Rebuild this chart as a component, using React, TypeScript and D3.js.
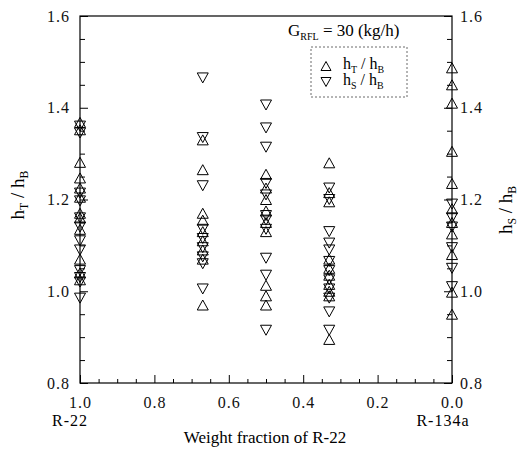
import React, { useEffect, useRef } from 'react';
import * as d3 from 'd3';

const W = 521;
const H = 449;
const FONT = 'Liberation Serif, Times New Roman, Times, serif';

// weight fraction of R-22 for each measured mixture
const fractions = [1.0, 0.67, 0.5, 0.33, 0.0];

// h_T / h_B (up triangles)
const hT_100 = [1.368, 1.352, 1.281, 1.247, 1.225, 1.205, 1.17, 1.16, 1.135, 1.07, 1.04, 1.025];
const hT_67 = [1.33, 1.265, 1.17, 1.155, 1.13, 1.11, 1.09, 1.07, 0.97];
const hT_50 = [1.255, 1.225, 1.2, 1.175, 1.15, 1.13, 1.013, 0.99, 0.97];
const hT_33 = [1.28, 1.215, 1.195, 1.07, 1.05, 1.035, 1.015, 1.0, 0.99, 0.895];
const hT_0 = [1.487, 1.45, 1.41, 1.305, 1.235, 1.18, 1.15, 1.125, 1.08, 0.998, 0.95];

// h_S / h_B (down triangles)
const hS_100 = [1.36, 1.345, 1.214, 1.197, 1.16, 1.14, 1.11, 1.09, 1.045, 1.03, 1.02, 0.985];
const hS_67 = [1.465, 1.335, 1.23, 1.135, 1.115, 1.095, 1.075, 1.06, 1.005];
const hS_50 = [1.406, 1.356, 1.314, 1.235, 1.21, 1.165, 1.155, 1.135, 1.072, 1.035, 0.915];
const hS_33 = [1.225, 1.2, 1.13, 1.105, 1.09, 1.065, 1.045, 1.025, 1.005, 0.985, 0.955, 0.915];
const hS_0 = [1.19, 1.16, 1.14, 1.095, 1.05, 1.01];

const hTSeries = [hT_100, hT_67, hT_50, hT_33, hT_0];
const hSSeries = [hS_100, hS_67, hS_50, hS_33, hS_0];

const xMajor = [1.0, 0.8, 0.6, 0.4, 0.2, 0.0];
const yMajor = [0.8, 1.0, 1.2, 1.4, 1.6];

const triUp = (w: number, h: number) => `M0,${-h / 2}L${w / 2},${h / 2}L${-w / 2},${h / 2}Z`;
const triDown = (w: number, h: number) => `M0,${h / 2}L${w / 2},${-h / 2}L${-w / 2},${-h / 2}Z`;

const App: React.FC = () => {
    const svgRef = useRef<SVGSVGElement>(null);

    useEffect(() => {
        if (!svgRef.current) return;
        const svg = d3.select(svgRef.current);
        svg.selectAll('*').remove();

        const left = 80, right = 452, top = 16, bottom = 383;
        const x = d3.scaleLinear().domain([1, 0]).range([left, right]);
        const y = d3.scaleLinear().domain([0.8, 1.6]).range([bottom, top]);

        const minorX = d3.range(0, 21).map(i => i * 0.05).filter(v => !xMajor.some(m => Math.abs(m - v) < 1e-6));
        const minorY = d3.range(0, 17).map(i => 0.8 + i * 0.05).filter(v => !yMajor.some(m => Math.abs(m - v) < 1e-6));

        const styleAxis = (g: d3.Selection<SVGGElement, unknown, null, undefined>) => {
            g.select('.domain').remove();
            g.attr('font-family', FONT).attr('font-size', 16);
            g.selectAll('line').attr('stroke', '#000').attr('stroke-width', 1);
            g.selectAll('text').attr('fill', '#111').style('letter-spacing', '1px');
        };

        // bottom axis
        svg.append('g')
            .attr('transform', `translate(0,${bottom})`)
            .call(d3.axisBottom(x).tickValues(xMajor).tickSize(-8).tickPadding(14).tickFormat(d3.format('.1f')))
            .call(styleAxis);
        svg.append('g')
            .attr('transform', `translate(0,${bottom})`)
            .call(d3.axisBottom(x).tickValues(minorX).tickSize(-4).tickFormat(() => ''))
            .call(styleAxis);

        // left axis
        svg.append('g')
            .attr('transform', `translate(${left},0)`)
            .call(d3.axisLeft(y).tickValues(yMajor).tickSize(-8).tickPadding(10).tickFormat(d3.format('.1f')))
            .call(styleAxis);
        svg.append('g')
            .attr('transform', `translate(${left},0)`)
            .call(d3.axisLeft(y).tickValues(minorY).tickSize(-5).tickFormat(() => ''))
            .call(styleAxis);

        // right axis
        svg.append('g')
            .attr('transform', `translate(${right},0)`)
            .call(d3.axisRight(y).tickValues(yMajor).tickSize(-8).tickPadding(8).tickFormat(d3.format('.1f')))
            .call(styleAxis);
        svg.append('g')
            .attr('transform', `translate(${right},0)`)
            .call(d3.axisRight(y).tickValues(minorY).tickSize(-5).tickFormat(() => ''))
            .call(styleAxis);

        // frame
        svg.append('rect')
            .attr('x', left).attr('y', top)
            .attr('width', right - left).attr('height', bottom - top)
            .attr('fill', 'none').attr('stroke', '#000').attr('stroke-width', 1.2);

        // data markers
        const markers = svg.append('g').attr('fill', 'none').attr('stroke', '#000').attr('stroke-width', 1);
        fractions.forEach((f, i) => {
            markers.selectAll(null)
                .data(hTSeries[i])
                .join('path')
                .attr('d', triUp(11, 10))
                .attr('transform', d => `translate(${x(f)},${y(d)})`);
            markers.selectAll(null)
                .data(hSSeries[i])
                .join('path')
                .attr('d', triDown(11, 10))
                .attr('transform', d => `translate(${x(f)},${y(d)})`);
        });

        // component labels under axis
        svg.append('text').attr('x', 70).attr('y', 426)
            .attr('text-anchor', 'middle').attr('font-family', FONT).attr('font-size', 16)
            .style('letter-spacing', '1px').text('R-22');
        svg.append('text').attr('x', 443).attr('y', 426)
            .attr('text-anchor', 'middle').attr('font-family', FONT).attr('font-size', 16)
            .style('letter-spacing', '1px').text('R-134a');
        svg.append('text').attr('x', 265).attr('y', 443)
            .attr('text-anchor', 'middle').attr('font-family', FONT).attr('font-size', 17)
            .text('Weight fraction of R-22');

        // h over h_B label helper
        const ratioText = (sel: d3.Selection<SVGTextElement, unknown, null, undefined>, sub: string, size: number) => {
            sel.append('tspan').text('h');
            sel.append('tspan').attr('font-size', size * 0.62).attr('dy', size * 0.22).text(sub);
            sel.append('tspan').attr('dy', -size * 0.22).text(' / h');
            sel.append('tspan').attr('font-size', size * 0.62).attr('dy', size * 0.22).text('B');
        };

        const yl = svg.append('text')
            .attr('transform', 'translate(24,195) rotate(-90)')
            .attr('text-anchor', 'middle').attr('font-family', FONT).attr('font-size', 19);
        ratioText(yl, 'T', 19);

        const yr = svg.append('text')
            .attr('transform', 'translate(512,210) rotate(-90)')
            .attr('text-anchor', 'middle').attr('font-family', FONT).attr('font-size', 19);
        ratioText(yr, 'S', 19);

        // annotation
        const ann = svg.append('text').attr('x', 288).attr('y', 36)
            .attr('font-family', FONT).attr('font-size', 17);
        ann.append('tspan').text('G');
        ann.append('tspan').attr('font-size', 10).attr('dy', 4).text('RFL');
        ann.append('tspan').attr('dy', -4).text(' = 30 (kg/h)');

        // legend
        svg.append('rect')
            .attr('x', 311).attr('y', 47).attr('width', 96).attr('height', 50)
            .attr('fill', '#fff').attr('stroke', '#444').attr('stroke-width', 0.8)
            .attr('stroke-dasharray', '2 2');
        const legendRows = [{ sub: 'T', d: triUp(10, 9), yy: 66 }, { sub: 'S', d: triDown(10, 9), yy: 82 }];
        legendRows.forEach(r => {
            svg.append('path').attr('d', r.d)
                .attr('transform', `translate(326,${r.yy})`)
                .attr('fill', 'none').attr('stroke', '#000').attr('stroke-width', 1);
            const t = svg.append('text').attr('x', 343).attr('y', r.yy + 3)
                .attr('font-family', FONT).attr('font-size', 16);
            ratioText(t, r.sub, 16);
        });
    }, []);

    return (
        <div style={{ position: 'absolute', left: 0, top: 0, width: W, height: H, background: '#fff' }}>
            <svg ref={svgRef} width={W} height={H} style={{ display: 'block' }} />
        </div>
    );
};

export default App;
